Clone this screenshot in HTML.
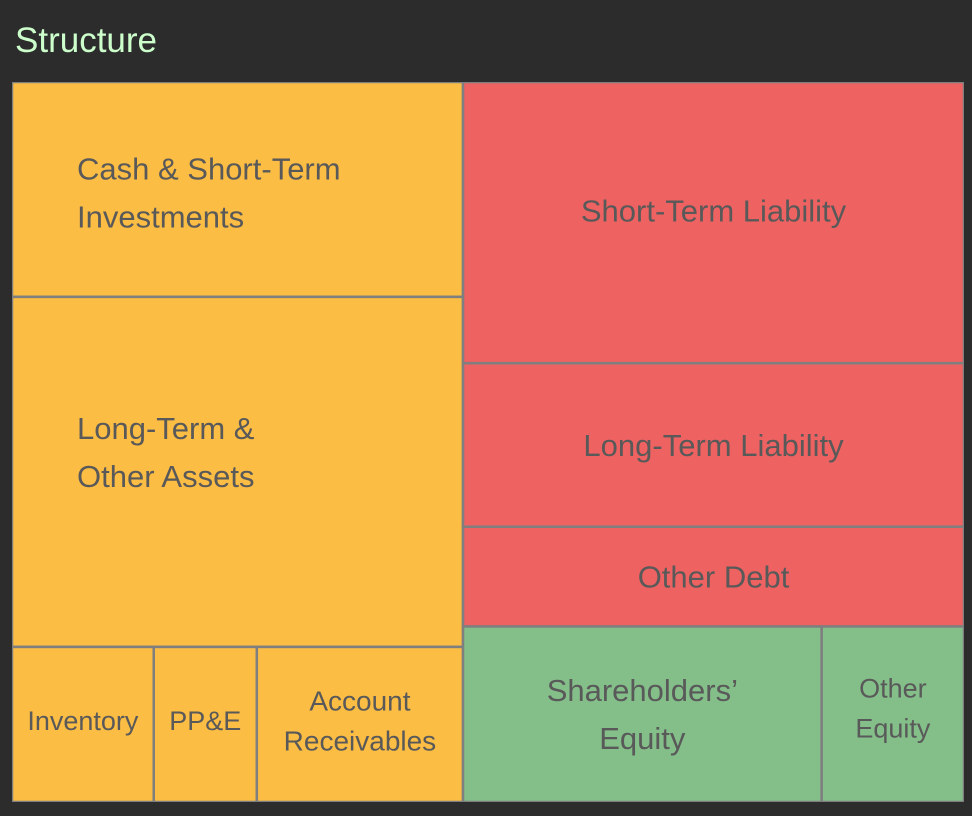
<!DOCTYPE html>
<html><head><meta charset="utf-8"><style>
html,body{margin:0;padding:0;background:#2c2c2c;width:972px;height:816px;overflow:hidden}
svg{display:block}
</style></head><body>
<svg id="chart" width="972" height="816" xmlns="http://www.w3.org/2000/svg">
<defs><clipPath id="clip"><rect x="12" y="82" width="952" height="720"/></clipPath></defs>
<rect x="0" y="0" width="972" height="816" fill="#2c2c2c"/>
<text x="15" y="52" font-family="'Liberation Sans', sans-serif" font-size="35" fill="#ccffcc">Structure</text>
<g id="plot" clip-path="url(#clip)"></g>
</svg>
<script>
// Data (arbitrary units)
const assetLabels = ["Cash & Short-Term\nInvestments", "Long-Term &\nOther Assets", "Inventory", "PP&E", "Account\nReceivables"];
const assetValues = [97, 158, 22, 16, 32];
const liabLabels = ["Short-Term Liability", "Long-Term Liability", "Other Debt", "Shareholders’\nEquity", "Other\nEquity"];
const liabValues = [141, 82, 50, 63, 25];

const X0 = 12, Y0 = 82, W = 952, H = 720;
const colors = {asset: "#fcbd45", liab: "#ee6262", equity: "#84bf8a"};
const NS = "http://www.w3.org/2000/svg";
const plot = document.getElementById("plot");
const sum = a => a.reduce((s, v) => s + v, 0);

const assetRows = [[0], [1], [2, 3, 4]];
const liabRows = [[0], [1], [2], [3, 4]];

function drawCell(x, y, w, h, label, fill, align, dy) {
  const r = document.createElementNS(NS, "rect");
  r.setAttribute("x", x); r.setAttribute("y", y);
  r.setAttribute("width", w); r.setAttribute("height", h);
  r.setAttribute("fill", fill); r.setAttribute("stroke", "#7f7f7f"); r.setAttribute("stroke-width", 2.5);
  
  
  plot.appendChild(r);
  const lines = label.split("\n");
  const big = w > 300;
  const fs = big ? 31 : (w < 150 ? 27 : 28);
  const lh = big ? 48 : 40;
  const t = document.createElementNS(NS, "text");
  t.setAttribute("font-family", "'Liberation Sans', sans-serif");
  t.setAttribute("font-size", fs);
  t.setAttribute("fill", "#595959");
  
  
  let tx = x + w / 2, anchor = "middle";
  if (align === "left") { tx = x + 65; anchor = "start"; }
  t.setAttribute("text-anchor", anchor);
  const cy = y + h / 2 - (lines.length - 1) * lh / 2 + fs * 0.35 + dy;
  lines.forEach((ln, i) => {
    const s = document.createElementNS(NS, "tspan");
    s.setAttribute("x", tx); s.setAttribute("y", cy + i * lh);
    s.textContent = ln;
    t.appendChild(s);
  });
  plot.appendChild(t);
}

function drawColumn(x, w, values, labels, rows, fillFn, alignFn, dyFn) {
  const total = sum(values);
  let y = Y0;
  rows.forEach(row => {
    const rs = sum(row.map(i => values[i]));
    const h = H * rs / total;
    let cx = x;
    row.forEach(i => {
      const cw = w * values[i] / rs;
      drawCell(cx, y, cw, h, labels[i], fillFn(i), alignFn(i), dyFn(i));
      cx += cw;
    });
    y += h;
  });
}

const totalAll = sum(assetValues) + sum(liabValues);
const leftW = W * sum(assetValues) / totalAll;
drawColumn(X0, leftW, assetValues, assetLabels, assetRows, () => colors.asset, i => i < 2 ? "left" : "center", i => i === 1 ? -20 : (i === 0 ? 3 : -4));
drawColumn(X0 + leftW, W - leftW, liabValues, liabLabels, liabRows, i => i >= 3 ? colors.equity : colors.liab, () => "center", i => i === 0 ? -12 : (i === 4 ? -6 : 0));
</script>
</body></html>
